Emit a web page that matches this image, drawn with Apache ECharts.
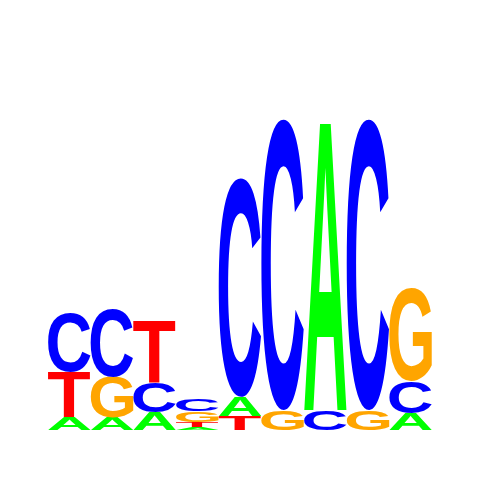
<!DOCTYPE html>
<html>
<head>
<meta charset="utf-8">
<script src="https://cdn.jsdelivr.net/npm/echarts@6/dist/echarts.min.js"></script>
<style>html,body{margin:0;padding:0;background:#fff}#c{width:480px;height:480px}</style>
</head>
<body>
<div id="c"></div>
<script>
// Sequence logo data (information content in bits per letter)
var positions = ['1','2','3','4','5','6','7','8','9'];
var letters = ['A','C','G','T'];
var bitsA = [0.068, 0.068, 0.095, 0.016, 0.100, 0.000, 1.532, 0.000, 0.089];
var bitsC = [0.311, 0.358, 0.158, 0.063, 1.153, 1.532, 0.105, 1.532, 0.168];
var bitsG = [0.000, 0.211, 0.000, 0.058, 0.000, 0.105, 0.000, 0.105, 0.489];
var bitsT = [0.237, 0.000, 0.326, 0.026, 0.074, 0.000, 0.000, 0.000, 0.000];
var letterColors = {A:'#00ff00', C:'#0000ff', G:'#ffa500', T:'#ff0000'};

var FONT = 'bold 100px "Liberation Sans", Arial, sans-serif';
var bitsByLetter = {A:bitsA, C:bitsC, G:bitsG, T:bitsT};

// measure glyph bounds exactly as zrender draws them (center / middle)
var metrics = {};
(function(){
  var cv = document.createElement('canvas');
  var ctx = cv.getContext('2d');
  ctx.font = FONT;
  ctx.textAlign = 'center';
  ctx.textBaseline = 'middle';
  letters.forEach(function(L){
    var m = ctx.measureText(L);
    metrics[L] = {l:m.actualBoundingBoxLeft, r:m.actualBoundingBoxRight,
                  a:m.actualBoundingBoxAscent, d:m.actualBoundingBoxDescent};
  });
})();

// stacked data: [pos, y0, y1, letterIndex], smallest at bottom
var stackData = [];
positions.forEach(function(p, i){
  var items = letters.map(function(L, li){ return {li:li, v:bitsByLetter[L][i]}; })
    .filter(function(o){ return o.v > 0; })
    .sort(function(a,b){ return a.v - b.v; });
  var acc = 0;
  items.forEach(function(o){
    stackData.push([i, acc, acc + o.v, o.li]);
    acc += o.v;
  });
});

var chart = echarts.init(document.getElementById('c'));
chart.setOption({
  animation: false,
  backgroundColor: '#ffffff',
  grid: {left: 48, right: 48, top: 50, bottom: 50},
  xAxis: {type:'category', data: positions, show: false},
  yAxis: {type:'value', min: 0, max: 2, show: false},
  series: [{
    type: 'custom',
    silent: true,
    data: stackData,
    renderItem: function(params, api){
      var pos = api.value(0), y0 = api.value(1), y1 = api.value(2), li = api.value(3);
      var L = letters[li];
      var bot = api.coord([pos, y0]);
      var top = api.coord([pos, y1]);
      var bw = api.size([1, 0])[0];
      var x0 = bot[0] - bw / 2, x1 = bot[0] + bw / 2;
      var yTop = top[1], yBot = bot[1];
      var m = metrics[L];
      var sx = (x1 - x0) / (m.l + m.r);
      var sy = (yBot - yTop) / (m.a + m.d);
      return {
        type: 'text',
        x: x0 + sx * m.l,
        y: yTop + sy * m.a,
        scaleX: sx,
        scaleY: sy,
        style: {
          text: L, x: 0, y: 0, font: FONT,
          fill: letterColors[L], align: 'center', verticalAlign: 'middle'
        }
      };
    }
  }]
});
</script>
</body>
</html>
